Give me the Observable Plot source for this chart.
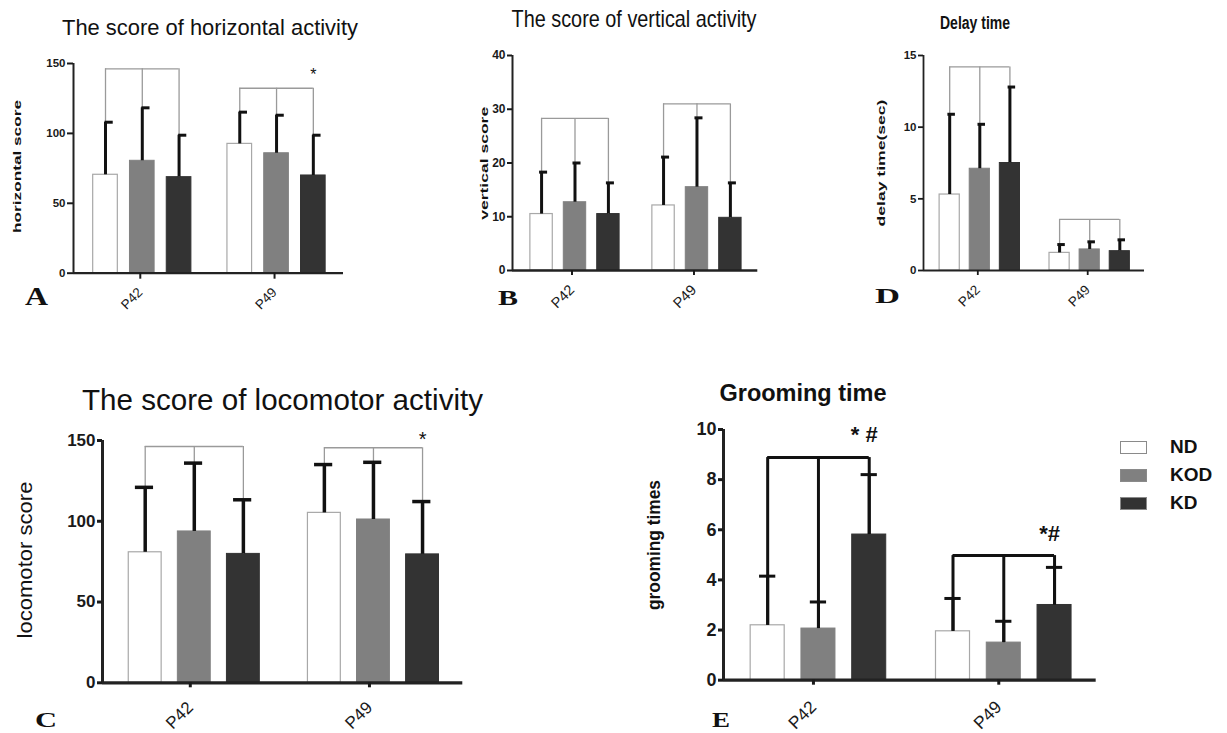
<!DOCTYPE html>
<html>
<head>
<meta charset="utf-8">
<script src="https://cdn.jsdelivr.net/npm/d3@7"></script>
<script src="https://cdn.jsdelivr.net/npm/@observablehq/plot@0.6"></script>
<style>
  html, body { margin: 0; padding: 0; background: #fff; }
  #root { position: relative; width: 1227px; height: 733px; overflow: hidden; background: #fff; }
  #root > .panel { position: absolute; }
  #root g[aria-label="y-axis tick label"], #root g[aria-label="y-axis tick label"] text { font-weight: bold; }
</style>
</head>
<body>
<div id="root"></div>
<script>
// ---------- data ----------
const groups = ["P42", "P49"];
const series = ["ND", "KOD", "KD"];
const fills = ["#ffffff", "#808080", "#333333"];

// order: P42 ND, KOD, KD, then P49 ND, KOD, KD
const horizMean = [70.4, 80.4, 68.7, 92.5, 85.8, 69.9];
const horizErr  = [108, 118.3, 98.7, 115.2, 113, 98.7];
const horizBracket = [146.2, 132.3];
const horizStars = [{group: "P49", series: "KD", y: 141.9, text: "*"}];

const vertMean = [10.5, 12.7, 10.5, 12.1, 15.5, 9.8];
const vertErr  = [18.3, 20.0, 16.3, 21.1, 28.4, 16.3];
const vertBracket = [28.3, 31.0];
const vertStars = [];

const delayMean = [5.3, 7.1, 7.5, 1.23, 1.47, 1.35];
const delayErr  = [10.9, 10.2, 12.8, 1.81, 2.0, 2.14];
const delayBracket = [14.2, 3.56];
const delayStars = [];

const locoMean = [80.8, 93.7, 79.8, 105.2, 101.1, 79.5];
const locoErr  = [121, 136, 113.3, 135.1, 136.5, 112.2];
const locoBracket = [146.3, 145.5];
const locoStars = [{group: "P49", series: "KD", y: 150.8, text: "*"}];

const groomMean = [2.19, 2.06, 5.81, 1.95, 1.5, 3.0];
const groomErr  = [4.15, 3.12, 8.2, 3.26, 2.35, 4.5];
const groomBracket = [8.88, 4.97];
const groomStars = [
  {group: "P42", series: "KD", y: 9.77, text: "* #"},
  {group: "P49", series: "KD", y: 5.85, text: "*#"}
];

// ---------- layout helpers ----------
const G = 3.65;            // distance between group starts, in bar slots
const XDOM = [-0.87, 6.47];
const BARW = 0.67;
const pos = (g, s) => groups.indexOf(g) * G + series.indexOf(s);

function rowsOf(mean, err) {
  const rows = [];
  groups.forEach((g, gi) => series.forEach((s, si) => {
    const i = gi * series.length + si;
    rows.push({group: g, series: s, pos: pos(g, s), mean: mean[i], err: err[i]});
  }));
  return rows;
}

const root = document.getElementById("root");
const ML = 60, MR = 12, MT = 22, MB = 70;

function panel(cfg) {
  const rows = rowsOf(cfg.mean, cfg.err);
  const br = groups.map((g, gi) => ({group: g, y: cfg.bracket[gi], x1: gi * G, x2: gi * G + 2}));
  const brOf = g => cfg.bracket[groups.indexOf(g)];
  const w = (cfg.R - cfg.L) + ML + MR;
  const h = (cfg.B - cfg.T) + MT + MB;
  const chart = Plot.plot({
    width: w, height: h,
    marginLeft: ML, marginRight: MR, marginTop: MT, marginBottom: MB,
    x: {domain: XDOM, axis: null},
    y: {domain: [0, cfg.ymax], axis: null},
    color: {type: "ordinal", domain: series, range: fills},
    style: {background: "transparent", fontFamily: "'Liberation Sans', Arial, sans-serif",
            fontSize: cfg.yfont + "px", color: "#1a1a1a", overflow: "visible"},
    marks: [
      Plot.rectY(rows, {x1: d => d.pos - BARW / 2, x2: d => d.pos + BARW / 2, y1: 0, y2: "mean",
                        fill: "series", stroke: "series", strokeWidth: 1}),
      Plot.rectY(rows, {filter: d => d.series === "ND", x1: d => d.pos - BARW / 2, x2: d => d.pos + BARW / 2,
                        y1: 0, y2: "mean", fill: "none", stroke: "#a8a8a8", strokeWidth: 1.2}),
      // significance brackets
      Plot.ruleY(br, {y: "y", x1: "x1", x2: "x2", stroke: cfg.brColor, strokeWidth: cfg.brW}),
      Plot.ruleX(rows, {x: "pos", y1: "mean", y2: d => brOf(d.group), stroke: cfg.brColor, strokeWidth: cfg.brW}),
      // error bars (upper only)
      Plot.ruleX(rows, {x: "pos", y1: "mean", y2: "err", stroke: "#111", strokeWidth: cfg.errW}),
      Plot.ruleY(rows, {y: "err", x1: d => d.pos + cfg.cap[0], x2: d => d.pos + cfg.cap[1], stroke: "#111", strokeWidth: cfg.errW}),
      // axes
      Plot.ruleX([XDOM[0]], {y1: 0, y2: cfg.ymax, stroke: "#222", strokeWidth: cfg.axisW}),
      Plot.ruleY([0], {stroke: "#222", strokeWidth: cfg.axisW + 0.3}),
      Plot.axisY({ticks: cfg.yticks, tickSize: cfg.tickSize, tickPadding: 2, label: null, strokeWidth: cfg.axisW,
                  fontSize: cfg.yfont, fontWeight: "bold"}),
      Plot.axisX({ticks: groups.map((g, gi) => gi * G + 1), tickFormat: d => groups[Math.round((d - 1) / G)],
                  tickRotate: -45, tickSize: cfg.tickSize, tickPadding: cfg.xPad, dx: cfg.xDx, label: null,
                  strokeWidth: cfg.axisW, fontSize: cfg.xfont, fontWeight: "normal"}),
      Plot.text(cfg.stars, {x: d => pos(d.group, d.series), y: "y", text: "text", fontSize: cfg.starSize,
                            fontWeight: cfg.starWeight, dx: cfg.starDx, fill: "#111"})
    ]
  });
  chart.classList.add("panel");
  chart.style.left = (cfg.L - ML) + "px";
  chart.style.top = (cfg.T - MT) + "px";
  chart.style.maxWidth = "none";
  root.appendChild(chart);
}

const grayBr = "#9a9a9a";
panel({mean: horizMean, err: horizErr, bracket: horizBracket, stars: horizStars, ymax: 150, yticks: [0, 50, 100, 150],
       L: 73, R: 343, T: 63, B: 272.7, yfont: 11.5, xfont: 13.5, errW: 3, axisW: 2, tickSize: 6, xPad: 11, xDx: -2,
       brColor: grayBr, brW: 1.3, cap: [-0.01, 0.21], starSize: 16, starWeight: "normal", starDx: 0});
panel({mean: vertMean, err: vertErr, bracket: vertBracket, stars: vertStars, ymax: 40, yticks: [0, 10, 20, 30, 40],
       L: 511.7, R: 757, T: 55, B: 270, yfont: 12, xfont: 14.5, errW: 3, axisW: 2, tickSize: 5, xPad: 12, xDx: -3,
       brColor: grayBr, brW: 1.3, cap: [-0.06, 0.18], starSize: 16, starWeight: "normal", starDx: 0});
panel({mean: delayMean, err: delayErr, bracket: delayBracket, stars: delayStars, ymax: 15, yticks: [0, 5, 10, 15],
       L: 923, R: 1144, T: 55, B: 270, yfont: 11.5, xfont: 13.5, errW: 3, axisW: 1.8, tickSize: 5, xPad: 12, xDx: -2,
       brColor: grayBr, brW: 1.3, cap: [-0.06, 0.19], starSize: 16, starWeight: "normal", starDx: 0});
panel({mean: locoMean, err: locoErr, bracket: locoBracket, stars: locoStars, ymax: 150, yticks: [0, 50, 100, 150],
       L: 101.7, R: 462, T: 440, B: 682.3, yfont: 17, xfont: 17, errW: 3.5, axisW: 3, tickSize: 5, xPad: 17, xDx: -4,
       brColor: grayBr, brW: 1.3, cap: [-0.2, 0.17], starSize: 20, starWeight: "normal", starDx: 0});
panel({mean: groomMean, err: groomErr, bracket: groomBracket, stars: groomStars, ymax: 10, yticks: [0, 2, 4, 6, 8, 10],
       L: 723.3, R: 1096, T: 429.3, B: 680, yfont: 18, xfont: 17.5, errW: 3, axisW: 3, tickSize: 5, xPad: 19, xDx: -5,
       brColor: "#111", brW: 3, cap: [-0.16, 0.16], starSize: 22, starWeight: "bold", starDx: -5});

// ---------- legend ----------
const leg = Plot.legend({color: {type: "ordinal", domain: series, range: fills}, legend: "swatches",
                         columns: 1, swatchWidth: 27, swatchHeight: 13});
const legWrap = document.createElement("div");
legWrap.className = "panel";
legWrap.style.left = "1120px";
legWrap.style.top = "433px";
legWrap.appendChild(leg);
root.appendChild(legWrap);
leg.style.fontFamily = "'Liberation Sans', Arial, sans-serif";
leg.style.fontSize = "19px";
leg.style.fontWeight = "bold";
leg.style.color = "#111";
leg.style.margin = "0";
leg.style.minHeight = "0";
leg.querySelectorAll("svg").forEach(svg => {
  svg.style.marginRight = "23px";
  svg.style.overflow = "visible";
  const p = svg.parentElement;
  p.style.height = "28px";
  p.style.lineHeight = "28px";
  p.style.paddingBottom = "0";
  p.style.display = "flex";
  p.style.alignItems = "center";
  svg.querySelectorAll("rect").forEach(r => {
    r.setAttribute("x", 0.5); r.setAttribute("y", 0.5);
    r.setAttribute("width", 26); r.setAttribute("height", 12);
    r.setAttribute("stroke", "#8a8a8a"); r.setAttribute("stroke-width", 1);
  });
});

// ---------- titles, panel letters, y-axis labels ----------
const sans = "'Liberation Sans', Arial, sans-serif";
const serif = "'Liberation Serif', 'Times New Roman', serif";
const labels = [
  // titles
  {t: "The score of horizontal activity", x: 210, y: 35, size: 22, w: "normal", f: sans, len: 296},
  {t: "The score of vertical activity", x: 634, y: 27, size: 24, w: "normal", f: sans, len: 245},
  {t: "Delay time", x: 975, y: 29, size: 18, w: "bold", f: sans, len: 70},
  {t: "The score of locomotor activity", x: 282.5, y: 410, size: 30, w: "normal", f: sans, len: 401},
  {t: "Grooming time", x: 803, y: 401, size: 23, w: "bold", f: sans, len: 167},
  // panel letters
  {t: "A", x: 36.5, y: 305, size: 25, w: "bold", f: serif, len: 23},
  {t: "B", x: 508, y: 305, size: 22, w: "bold", f: serif, len: 20},
  {t: "D", x: 887.5, y: 303, size: 22, w: "bold", f: serif, len: 25},
  {t: "C", x: 46, y: 727, size: 22, w: "bold", f: serif, len: 22},
  {t: "E", x: 721, y: 727, size: 21, w: "bold", f: serif, len: 18},
  // y-axis labels (rotated)
  {t: "horizontal score", x: 20.7, y: 166.5, size: 11.5, w: "bold", f: sans, len: 133, rot: true},
  {t: "vertical score", x: 488.3, y: 163.3, size: 11.5, w: "bold", f: sans, len: 113, rot: true},
  {t: "delay time(sec)", x: 885, y: 163, size: 11.5, w: "bold", f: sans, len: 127, rot: true},
  {t: "locomotor score", x: 31.7, y: 560, size: 20, w: "normal", f: sans, len: 157, rot: true},
  {t: "grooming times", x: 660, y: 545, size: 19, w: "bold", f: sans, len: 130, rot: true}
];
const ov = d3.select(root).append("svg")
  .attr("width", 1227).attr("height", 733)
  .style("position", "absolute").style("left", "0px").style("top", "0px")
  .style("pointer-events", "none");
ov.selectAll("text").data(labels).join("text")
  .attr("x", d => d.x).attr("y", d => d.y)
  .attr("text-anchor", "middle")
  .attr("font-family", d => d.f)
  .attr("font-size", d => d.size)
  .attr("font-weight", d => d.w)
  .attr("fill", "#111")
  .attr("textLength", d => d.len)
  .attr("lengthAdjust", "spacingAndGlyphs")
  .attr("transform", d => d.rot ? `rotate(-90 ${d.x} ${d.y})` : null)
  .text(d => d.t);
</script>
</body>
</html>
